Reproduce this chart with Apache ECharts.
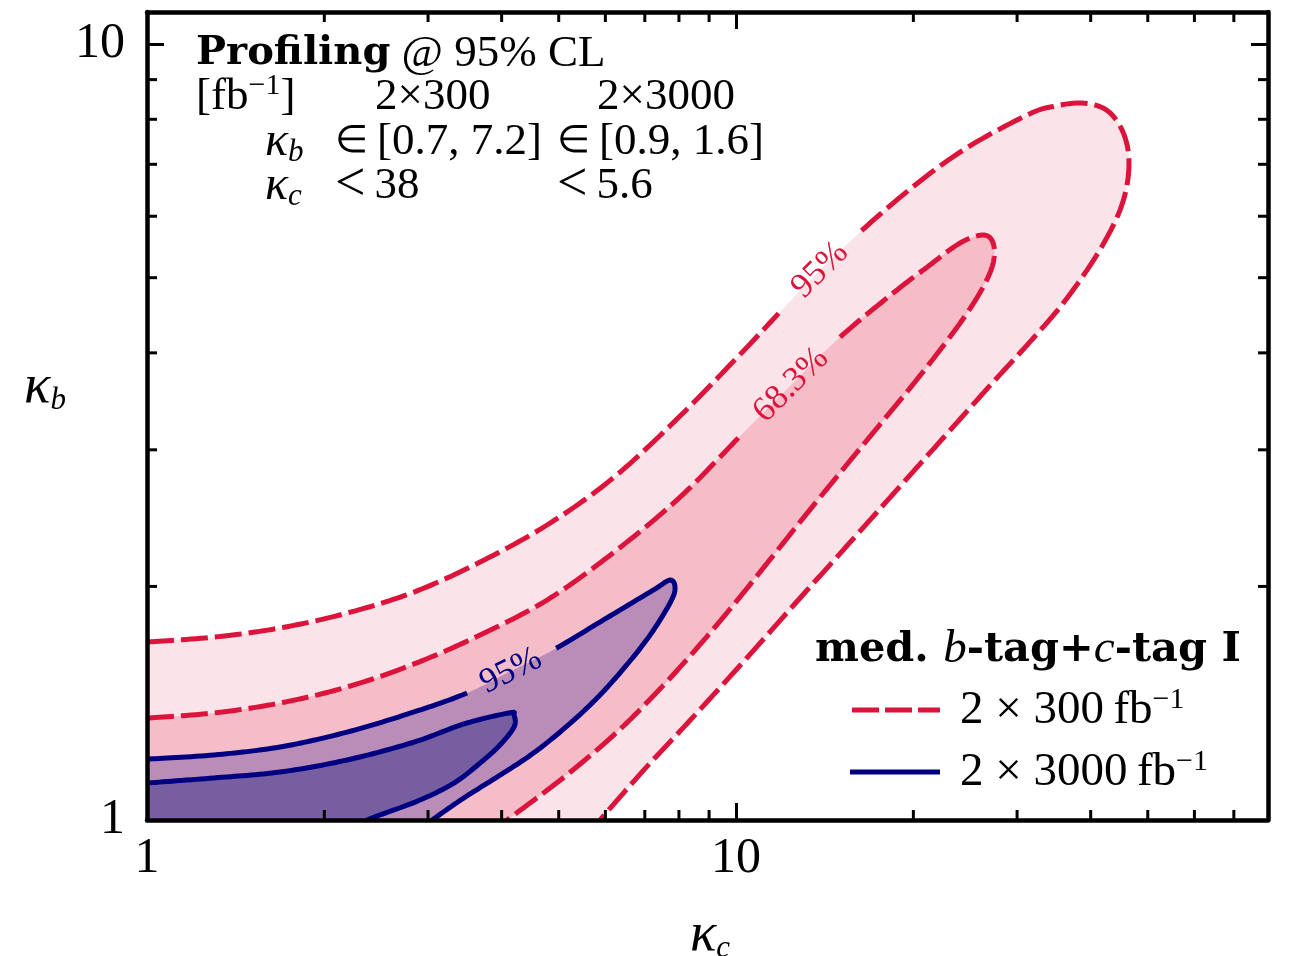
<!DOCTYPE html>
<html>
<head>
    <meta charset="utf-8" />
    <title>kappa_b vs kappa_c profiling</title>
    <script src="https://cdn.jsdelivr.net/npm/echarts@6.0.0/dist/echarts.min.js"></script>
    <style type="text/css">
        html, body {
            margin: 0;
            padding: 0;
            background: #fff;
        }

        #chart {
            width: 1309px;
            height: 956px;
        }
    </style>
</head>
<body>
    <div id="chart"></div>
    <script type="text/javascript">
        // contour vertices, [kappa_c, kappa_b]
        var red95 = [
            [1.00, 1.696], [1.300, 1.721], [1.682, 1.768], [2.186, 1.848], [2.840, 1.967], [3.676, 2.150],
            [4.777, 2.400], [6.182, 2.759], [8.034, 3.316], [10.44, 4.069], [13.89, 5.115], [18.48, 6.239],
            [24.01, 7.258], [31.20, 8.101], [34.81, 8.320], [38.67, 8.394], [42.32, 8.245], [44.87, 7.840],
            [46.29, 7.302], [46.29, 6.719], [45.05, 6.164], [42.66, 5.640], [39.44, 5.115], [35.49, 4.582],
            [31.20, 4.094], [27.32, 3.668], [24.01, 3.287], [21.10, 2.945], [18.48, 2.631], [15.20, 2.228],
            [12.49, 1.887], [10.28, 1.598], [8.453, 1.357], [6.952, 1.157], [5.876, 1.0]
        ];
        var red68 = [
            [1.00, 1.353], [1.300, 1.374], [1.682, 1.415], [2.186, 1.484], [2.840, 1.589], [3.676, 1.731],
            [4.777, 1.921], [6.182, 2.209], [8.034, 2.607], [10.28, 3.153], [12.40, 3.636], [15.02, 4.192],
            [18.48, 4.777], [21.10, 5.159], [24.01, 5.542], [26.27, 5.674], [27.32, 5.542], [27.32, 5.221],
            [26.27, 4.863], [24.48, 4.462], [22.20, 4.034], [19.74, 3.603], [17.35, 3.200], [15.20, 2.833],
            [13.25, 2.494], [11.51, 2.182], [9.961, 1.904], [8.586, 1.666], [7.344, 1.462], [6.230, 1.291],
            [5.085, 1.133], [4.085, 1.0]
        ];
        var blue95 = [
            [1.00, 1.198], [1.300, 1.213], [1.682, 1.242], [2.186, 1.298], [2.840, 1.378], [3.494, 1.458],
            [4.150, 1.556], [4.890, 1.656], [6.110, 1.832], [7.230, 1.978], [7.726, 2.038], [7.878, 1.991],
            [7.726, 1.904], [7.145, 1.731], [6.479, 1.575], [5.808, 1.436], [5.145, 1.318], [4.505, 1.216],
            [3.929, 1.136], [3.453, 1.068], [3.047, 1.0]
        ];
        var blue68 = [
            [1.00, 1.116], [1.300, 1.133], [1.682, 1.153], [2.186, 1.195], [2.840, 1.260], [3.453, 1.330],
            [4.117, 1.374], [4.199, 1.365], [4.199, 1.318], [3.973, 1.249], [3.676, 1.184], [3.320, 1.116],
            [2.908, 1.061], [2.486, 1.015], [2.363, 1.0]
        ];
        // inline contour labels: text, spot on the curve, half width of the cut in the line
        var red95Label = { text: '95%', at: [13.89, 5.115], gap: 54 };
        var red68Label = { text: '68.3%', at: [12.40, 3.636], gap: 67 };
        var blue95Label = { text: '95%', at: [4.150, 1.556], gap: 48 };

        var xMinorTicks = [2, 3, 4, 5, 6, 7, 8, 9, 20, 30, 40, 50, 60, 70];
        var yMinorTicks = [2, 3, 4, 5, 6, 7, 8, 9];

        var RED = '#dc143c';
        var NAVY = '#000080';
        var SERIF = 'Liberation Serif';
        var BOLD = 'DejaVu Serif';

        // catmull-rom through pixel points
        var spline = function (pts, steps) {
            var out = [];
            for (var i = 0; i < pts.length - 1; i++) {
                var p0 = pts[i - 1] || pts[i], p1 = pts[i], p2 = pts[i + 1], p3 = pts[i + 2] || pts[i + 1];
                for (var s = 0; s < steps; s++) {
                    var t = s / steps, t2 = t * t, t3 = t2 * t;
                    var q = [0, 1].map(function (j) {
                        return 0.5 * (2 * p1[j] + (-p0[j] + p2[j]) * t +
                            (2 * p0[j] - 5 * p1[j] + 4 * p2[j] - p3[j]) * t2 +
                            (-p0[j] + 3 * p1[j] - 3 * p2[j] + p3[j]) * t3);
                    });
                    out.push(q);
                }
            }
            out.push(pts[pts.length - 1]);
            return out;
        };

        var contourSeries = function (name, pts, fill, stroke, dashed, label) {
            return {
                type: 'custom',
                name: name,
                coordinateSystem: 'cartesian2d',
                clip: true,
                silent: true,
                data: [[1, 1]],
                renderItem: function (params, api) {
                    var dense = spline(pts.map(function (p) { return api.coord(p); }), 16);
                    var corner = api.coord([1, 1]);
                    var kids = [{
                        type: 'polygon',
                        shape: { points: dense.concat([corner]) },
                        style: { fill: fill, stroke: null }
                    }];
                    var runs = [], cur = [];
                    var c = label ? api.coord(label.at) : null, k = 0, best = Infinity;
                    dense.forEach(function (p, i) {
                        var d = c ? Math.hypot(p[0] - c[0], p[1] - c[1]) : Infinity;
                        if (d < best) { best = d; k = i; }
                        if (c && d < label.gap) {
                            if (cur.length > 1) runs.push(cur);
                            cur = [];
                        } else {
                            cur.push(p);
                        }
                    });
                    if (cur.length > 1) runs.push(cur);
                    runs.forEach(function (r) {
                        kids.push({
                            type: 'polyline',
                            shape: { points: r },
                            style: {
                                fill: null, stroke: stroke, lineWidth: 5,
                                lineDash: dashed ? [27, 7] : null, lineJoin: 'round'
                            }
                        });
                    });
                    if (c) {
                        var a = dense[Math.max(k - 8, 0)], b = dense[Math.min(k + 8, dense.length - 1)];
                        var ang = Math.atan2(-(b[1] - a[1]), b[0] - a[0]);
                        if (ang > Math.PI / 2) ang -= Math.PI;
                        if (ang < -Math.PI / 2) ang += Math.PI;
                        kids.push({
                            type: 'text', x: c[0], y: c[1], rotation: ang,
                            style: {
                                text: label.text, fill: stroke, fontSize: 35, fontFamily: SERIF,
                                align: 'center', verticalAlign: 'middle'
                            }
                        });
                    }
                    return { type: 'group', children: kids };
                }
            };
        };

        var minorTickSeries = {
            type: 'custom',
            coordinateSystem: 'cartesian2d',
            silent: true,
            z: 11,
            data: [[1, 1]],
            renderItem: function (params, api) {
                var cs = params.coordSys, kids = [];
                var st = { stroke: '#000', lineWidth: 3 };
                xMinorTicks.forEach(function (v) {
                    var x = api.coord([v, 1])[0];
                    kids.push({ type: 'line', shape: { x1: x, y1: cs.y + cs.height, x2: x, y2: cs.y + cs.height - 10 }, style: st });
                    kids.push({ type: 'line', shape: { x1: x, y1: cs.y, x2: x, y2: cs.y + 10 }, style: st });
                });
                yMinorTicks.forEach(function (v) {
                    var y = api.coord([1, v])[1];
                    kids.push({ type: 'line', shape: { x1: cs.x, y1: y, x2: cs.x + 10, y2: y }, style: st });
                    kids.push({ type: 'line', shape: { x1: cs.x + cs.width, y1: y, x2: cs.x + cs.width - 10, y2: y }, style: st });
                });
                return { type: 'group', children: kids };
            }
        };

        var decadeLabel = function (v) {
            var l = Math.log(v) / Math.LN10;
            return Math.abs(l - Math.round(l)) < 1e-6 ? String(Math.round(v)) : '';
        };

        var axisBase = function (type, pos, showLabel, max) {
            return {
                type: 'log',
                logBase: 10,
                min: 1,
                max: max,
                position: pos,
                z: 10,
                axisLine: { show: true, lineStyle: { color: '#000', width: 4.5 } },
                axisTick: { show: true, inside: true, length: 17, lineStyle: { color: '#000', width: 3 } },
                axisLabel: {
                    show: showLabel, formatter: decadeLabel, color: '#000',
                    fontFamily: SERIF, fontSize: 50, margin: type == 'x' ? 14 : 22
                },
                splitLine: { show: false },
                minorTick: { show: false },
                minorSplitLine: { show: false }
            };
        };

        var rich = {
            r: { fontFamily: SERIF, fontSize: 45, lineHeight: 52, fill: '#000' },
            lr: { fontFamily: SERIF, fontSize: 47, lineHeight: 52, fill: '#000' },
            el: { fontFamily: SERIF, fontSize: 38, lineHeight: 52, fill: '#000' },
            lt: { fontFamily: SERIF, fontSize: 54, lineHeight: 52, fill: '#000' },
            i: { fontFamily: SERIF, fontStyle: 'italic', fontSize: 48, lineHeight: 52, fill: '#000' },
            ax: { fontFamily: SERIF, fontStyle: 'italic', fontSize: 55, lineHeight: 56, fill: '#000' },
            sub: { fontFamily: SERIF, fontStyle: 'italic', fontSize: 31, lineHeight: 30, verticalAlign: 'bottom', fill: '#000' },
            sup: { fontFamily: SERIF, fontSize: 30, lineHeight: 29, verticalAlign: 'top', fill: '#000' },
            b: { fontFamily: BOLD, fontWeight: 'bold', fontSize: 40, lineHeight: 52, fill: '#000' },
            bl: { fontFamily: BOLD, fontWeight: 'bold', fontSize: 41.5, lineHeight: 52, fill: '#000' },
            bi: { fontFamily: SERIF, fontStyle: 'italic', fontSize: 47, lineHeight: 52, fill: '#000' }
        };

        var txt = function (x, y, text, align) {
            return {
                type: 'text', x: x, y: y, z: 20, silent: true,
                style: { text: text, rich: rich, align: align || 'left', verticalAlign: 'middle' }
            };
        };

        var option = {
            backgroundColor: '#fff',
            animation: false,
            grid: { left: 147, right: 41, top: 12, bottom: 136, outerBoundsMode: 'none', containLabel: false },
            xAxis: [axisBase('x', 'bottom', true, 80), axisBase('x', 'top', false, 80)],
            yAxis: [axisBase('y', 'left', true, 11), axisBase('y', 'right', false, 11)],
            series: [
                contourSeries('2x300 95', red95, '#fbe4e9', RED, true, red95Label),
                contourSeries('2x300 68', red68, '#f4bdc8', RED, true, red68Label),
                contourSeries('2x3000 95', blue95, '#b98db7', NAVY, false, blue95Label),
                contourSeries('2x3000 68', blue68, '#775ea0', NAVY, false, null),
                minorTickSeries
            ],
            graphic: [
                // axis titles
                txt(45, 388, '{ax|κ}{sub|b}', 'center'),
                txt(710, 936, '{ax|κ}{sub|c}', 'center'),
                // info block
                txt(196, 54, '{b|Profiling}{r| @ 95% CL}'),
                txt(196, 97, '{r|[fb}{sup|−1}{r|]}'),
                txt(375, 97, '{r|2×300}'),
                txt(597, 97, '{r|2×3000}'),
                txt(265, 142, '{i|κ}{sub|b}'),
                txt(335, 142, '{el|∈}{r|\u2009[0.7, 7.2]}'),
                txt(557, 142, '{el|∈}{r|\u2009[0.9, 1.6]}'),
                txt(265, 186, '{i|κ}{sub|c}'),
                txt(335, 186, '{lt|<}{r|\u200938}'),
                txt(557, 186, '{lt|<}{r|\u20095.6}'),
                // legend
                txt(815, 650, '{bl|med. }{bi|b}{bl|-tag+}{bi|c}{bl|-tag I}'),
                {
                    type: 'line', z: 20, silent: true,
                    shape: { x1: 852, y1: 710, x2: 940, y2: 710 },
                    style: { stroke: RED, lineWidth: 5, lineDash: [27, 6] }
                },
                {
                    type: 'line', z: 20, silent: true,
                    shape: { x1: 850, y1: 772, x2: 940, y2: 772 },
                    style: { stroke: NAVY, lineWidth: 5 }
                },
                txt(960, 711, '{lr|2 × 300\u2009fb}{sup|−1}'),
                txt(960, 773, '{lr|2 × 3000\u2009fb}{sup|−1}')
            ]
        };

        var myChart = echarts.init(document.getElementById('chart'), null, { renderer: 'canvas' });
        myChart.setOption(option);
        window.onresize = myChart.resize;
    </script>
</body>
</html>
